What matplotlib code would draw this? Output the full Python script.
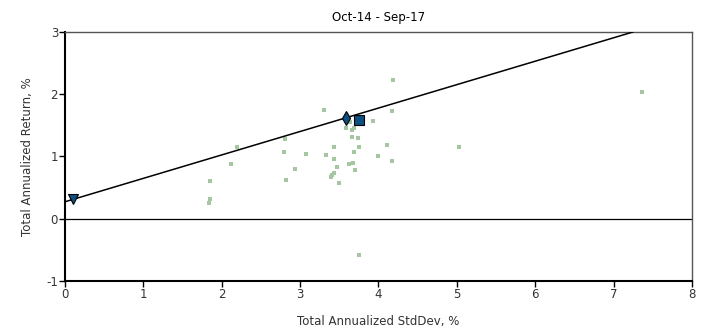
import matplotlib.pyplot as plt

plt.rcParams['axes.unicode_minus'] = False

# peer funds: annualized std dev (x) and return (y), %
peer_sd = [4.18, 3.31, 4.17, 3.93, 3.64, 3.58, 3.66, 3.69, 3.66, 3.74, 2.81, 2.20,
           3.43, 3.75, 4.11, 5.03, 3.69, 2.79, 3.07, 3.33, 3.43, 3.99, 4.17, 2.12,
           2.93, 3.47, 3.63, 3.67, 3.70, 3.43, 3.39, 3.41, 2.82, 3.50, 3.75, 1.85,
           1.85, 1.84, 7.36]
peer_ret = [2.23, 1.75, 1.73, 1.57, 1.55, 1.46, 1.43, 1.46, 1.32, 1.30, 1.28, 1.15,
            1.16, 1.15, 1.18, 1.16, 1.08, 1.07, 1.04, 1.02, 0.96, 1.01, 0.92, 0.88,
            0.80, 0.83, 0.88, 0.89, 0.79, 0.73, 0.67, 0.70, 0.62, 0.57, -0.58, 0.60,
            0.31, 0.25, 2.03]

rf_pt = (0.10, 0.31)        # risk free (triangle)
market_pt = (3.58, 1.62)    # diamond
fund_pt = (3.75, 1.59)      # square

title = 'Oct-14 - Sep-17'
xlabel = 'Total Annualized StdDev, %'
ylabel = 'Total Annualized Return, %'

fig = plt.figure(figsize=(7.08, 3.29), dpi=100)
ax = fig.add_axes([0.0918, 0.146, 0.8856, 0.7567])

ax.scatter(peer_sd, peer_ret, marker='s', s=12, color='#a4c6a0', linewidths=0, zorder=2)
ax.axline(rf_pt, market_pt, color='black', lw=1.1, zorder=3)
ax.axhline(0, color='black', lw=0.9, zorder=1)

ax.plot(*rf_pt, marker='v', ms=7, color='#0d4f80', mec='black', mew=0.8, zorder=4)
ax.plot(*market_pt, marker='d', ms=7, color='#0d4f80', mec='black', mew=0.8, zorder=4)
ax.plot(*fund_pt, marker='s', ms=7.5, color='#0d4f80', mec='black', mew=0.8, zorder=5)

ax.set_xlim(0, 8)
ax.set_ylim(-1, 3)
ax.set_xticks(range(0, 9))
ax.set_yticks(range(-1, 4))
ax.tick_params(direction='out', length=4, width=1, labelsize=8.5, colors='black', pad=1)
ax.tick_params(axis='y', labelcolor='#333333')
ax.tick_params(axis='x', labelcolor='#333333')

for s in ['left', 'bottom']:
    ax.spines[s].set_linewidth(1.5)
    ax.spines[s].set_color('black')
for s in ['top', 'right']:
    ax.spines[s].set_linewidth(1)
    ax.spines[s].set_color('#555555')

ax.set_title(title, fontsize=8.5, pad=8)
ax.set_xlabel(xlabel, fontsize=8.5, labelpad=10, color='#333333')
ax.set_ylabel(ylabel, fontsize=8.5, labelpad=9, color='#333333')

fig.savefig('out.png', dpi=100)
